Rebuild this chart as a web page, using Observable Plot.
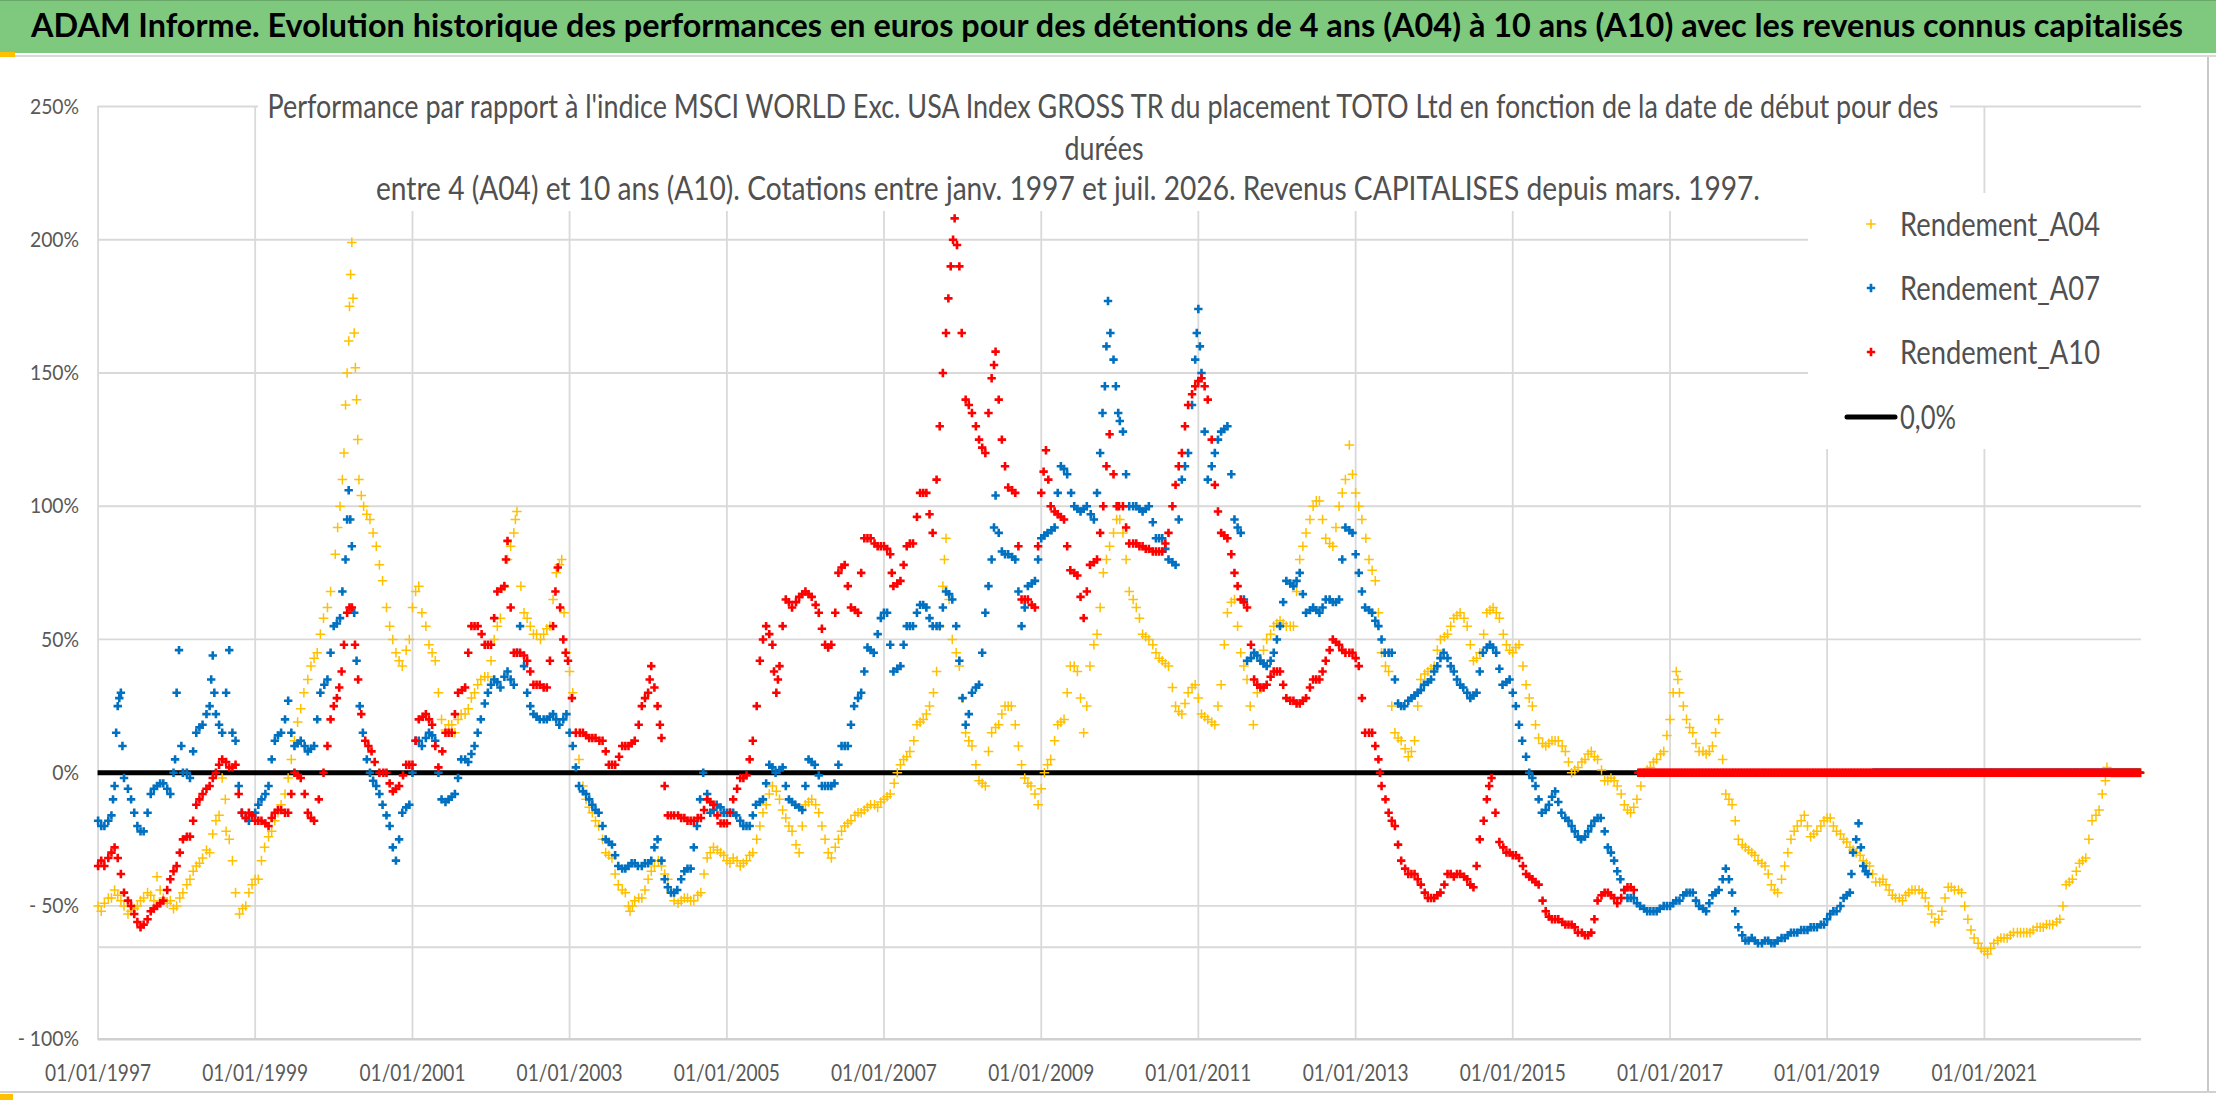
<!DOCTYPE html>
<html><head><meta charset="utf-8">
<script src="https://cdn.jsdelivr.net/npm/d3@7"></script>
<script src="https://cdn.jsdelivr.net/npm/@observablehq/plot@0.6"></script>
<style>
body{margin:0;background:#fff;}
#root{position:relative;width:2216px;height:1102px;overflow:hidden;background:#fff;}
.abs{position:absolute;white-space:nowrap;transform-origin:0 0;}
#chart{position:absolute;left:0;top:57px;}
</style></head><body><div id="root"></div>
<script>
// ---------- DATA ----------
const titleText = "ADAM Informe. Evolution historique des performances en euros pour des détentions de 4 ans (A04) à 10 ans (A10) avec les revenus connus capitalisés";
const subtitleLines = [
  "Performance par rapport à l'indice MSCI WORLD Exc. USA Index GROSS TR  du placement TOTO Ltd en fonction de la date de début pour des",
  "durées",
  "entre 4 (A04) et 10 ans (A10). Cotations entre janv. 1997 et juil. 2026. Revenus CAPITALISES depuis mars. 1997."
];
const seriesNames = ["Rendement_A04", "Rendement_A07", "Rendement_A10"];
const seriesColors = ["#FFC000", "#0070C0", "#FF0000"];
const zeroLabel = "0,0%";
const yTicks = [-100, -50, 0, 50, 100, 150, 200, 250];
const xTickYears = [1997, 1999, 2001, 2003, 2005, 2007, 2009, 2011, 2013, 2015, 2017, 2019, 2021];
const xStartYear = 1997, xEndYear = 2023;
const extraLineValue = -65.5;

// [decimal year of start date, performance %] — main reading of each band
const a04 = [
[1997.00,-50],[1997.08,-49],[1997.17,-47],[1997.25,-46],[1997.33,-50],[1997.42,-52],[1997.50,-50],[1997.58,-47],[1997.67,-46],[1997.75,-39],[1997.83,-47],[1997.92,-48],
[1998.00,-50],[1998.08,-45],[1998.17,-40],[1998.25,-35],[1998.33,-32],[1998.42,-30],[1998.50,-18],[1998.58,-2],[1998.62,-10],[1998.67,-25],[1998.75,-45],[1998.80,-53],[1998.88,-50],[1998.96,-42],
[1999.04,-40],[1999.12,-28],[1999.21,-22],[1999.29,-15],[1999.38,-8],[1999.46,5],[1999.54,19],[1999.62,30],[1999.71,40],[1999.79,45],[1999.87,58],[1999.96,68],
[2000.02,82],[2000.08,100],[2000.13,120],[2000.17,150],[2000.20,175],[2000.23,199],[2000.26,165],[2000.29,140],[2000.32,110],[2000.38,100],[2000.46,95],[2000.54,85],[2000.62,72],[2000.71,55],[2000.79,45],[2000.87,40],[2000.96,50],
[2001.04,68],[2001.12,60],[2001.21,48],[2001.29,42],[2001.37,20],[2001.46,18],[2001.54,15],[2001.62,22],[2001.71,24],[2001.79,30],[2001.87,35],[2001.96,36],
[2002.04,50],[2002.12,58],[2002.21,80],[2002.29,90],[2002.33,98],[2002.42,60],[2002.50,55],[2002.58,52],[2002.67,52],[2002.75,55],[2002.83,75],[2002.90,80],[2002.96,45],
[2003.04,30],[2003.12,5],[2003.21,-10],[2003.29,-15],[2003.37,-20],[2003.46,-30],[2003.54,-32],[2003.62,-42],[2003.71,-45],[2003.77,-52],[2003.83,-48],[2003.92,-47],
[2004.00,-40],[2004.08,-35],[2004.17,-35],[2004.25,-40],[2004.33,-48],[2004.42,-48],[2004.50,-47],[2004.58,-48],[2004.67,-45],[2004.75,-32],[2004.83,-28],[2004.92,-30],
[2005.00,-33],[2005.08,-32],[2005.17,-35],[2005.25,-33],[2005.33,-30],[2005.42,-20],[2005.50,-12],[2005.58,-5],[2005.67,-10],[2005.75,-17],[2005.83,-22],[2005.92,-30],
[2006.00,-12],[2006.08,-10],[2006.17,-15],[2006.25,-25],[2006.33,-32],[2006.42,-25],[2006.50,-20],[2006.58,-18],[2006.67,-15],[2006.75,-14],[2006.83,-12],[2006.92,-13],
[2007.00,-10],[2007.08,-8],[2007.17,0],[2007.25,5],[2007.33,8],[2007.42,18],[2007.50,20],[2007.58,25],[2007.67,38],[2007.75,70],[2007.79,88],[2007.87,50],[2007.96,40],
[2008.04,15],[2008.12,10],[2008.21,-3],[2008.29,-5],[2008.37,15],[2008.46,18],[2008.54,25],[2008.62,25],[2008.71,10],[2008.79,-2],[2008.87,-5],[2008.96,-12],
[2009.04,0],[2009.12,5],[2009.21,18],[2009.29,20],[2009.37,40],[2009.46,38],[2009.54,15],[2009.62,40],[2009.71,52],[2009.79,75],[2009.87,85],[2009.96,95],
[2010.04,90],[2010.12,68],[2010.21,62],[2010.29,52],[2010.37,50],[2010.46,45],[2010.54,42],[2010.62,40],[2010.71,25],[2010.79,22],[2010.87,30],[2010.96,33],
[2011.04,22],[2011.12,20],[2011.21,18],[2011.29,33],[2011.37,60],[2011.46,65],[2011.54,45],[2011.62,35],[2011.70,18],[2011.79,42],[2011.87,50],[2011.96,55],
[2012.04,57],[2012.12,55],[2012.21,55],[2012.29,80],[2012.37,90],[2012.46,100],[2012.54,102],[2012.62,88],[2012.71,85],[2012.79,100],[2012.87,110],[2012.92,123],
[2013.00,105],[2013.08,95],[2013.17,80],[2013.25,72],[2013.33,45],[2013.42,38],[2013.50,15],[2013.58,12],[2013.67,6],[2013.75,12],[2013.83,35],[2013.92,38],
[2014.00,40],[2014.08,50],[2014.17,52],[2014.25,58],[2014.33,60],[2014.42,55],[2014.50,42],[2014.58,45],[2014.67,60],[2014.75,62],[2014.83,58],[2014.92,48],
[2015.00,45],[2015.08,48],[2015.17,33],[2015.25,25],[2015.33,13],[2015.42,10],[2015.50,12],[2015.58,12],[2015.67,8],[2015.75,0],[2015.83,2],[2015.92,5],
[2016.00,8],[2016.08,5],[2016.17,-3],[2016.25,-2],[2016.33,-5],[2016.42,-12],[2016.50,-15],[2016.58,-10],[2016.67,0],[2016.75,2],[2016.83,5],[2016.92,8],
[2017.00,20],[2017.08,38],[2017.12,30],[2017.21,20],[2017.29,15],[2017.37,8],[2017.46,7],[2017.54,10],[2017.62,20],[2017.71,-8],[2017.79,-12],[2017.87,-25],[2017.96,-28],
[2018.04,-30],[2018.12,-33],[2018.21,-35],[2018.29,-42],[2018.37,-45],[2018.46,-35],[2018.54,-25],[2018.62,-20],[2018.71,-16],[2018.79,-24],[2018.87,-22],[2018.96,-18],
[2019.04,-17],[2019.12,-22],[2019.21,-25],[2019.29,-28],[2019.37,-30],[2019.46,-33],[2019.54,-35],[2019.62,-41],[2019.71,-40],[2019.79,-44],[2019.87,-47],[2019.96,-48],
[2020.04,-45],[2020.12,-44],[2020.21,-45],[2020.29,-50],[2020.37,-56],[2020.46,-52],[2020.54,-43],[2020.62,-44],[2020.71,-45],[2020.79,-55],[2020.87,-62],[2020.96,-66],
[2021.04,-68],[2021.12,-64],[2021.21,-62],[2021.29,-62],[2021.37,-60],[2021.46,-60],[2021.54,-60],[2021.62,-59],[2021.71,-58],[2021.79,-57],[2021.87,-57],[2021.96,-55],
[2022.04,-42],[2022.12,-40],[2022.21,-34],[2022.29,-32],[2022.37,-18],[2022.46,-14],[2022.54,-3]
];
// second reading of the A04 band (other edge of the daily scatter)
const a04Edge = [
[1997.04,-52],[1997.13,-47],[1997.21,-44],[1997.29,-48],[1997.38,-53],[1997.46,-51],[1997.54,-48],[1997.63,-45],[1997.71,-48],[1997.79,-44],[1997.88,-49],[1997.96,-51],
[1998.04,-47],[1998.13,-42],[1998.21,-37],[1998.29,-34],[1998.38,-29],[1998.46,-23],[1998.54,-16],[1998.63,-22],[1998.71,-33],[1998.84,-51],[1998.92,-45],
[1999.00,-40],[1999.08,-33],[1999.17,-24],[1999.25,-18],[1999.33,-12],[1999.42,-2],[1999.50,12],[1999.58,24],[1999.67,35],[1999.75,43],[1999.83,52],[1999.92,62],
[2000.05,92],[2000.11,110],[2000.15,138],[2000.19,162],[2000.215,187],[2000.245,178],[2000.275,152],[2000.305,125],[2000.35,104],[2000.42,97],[2000.50,90],[2000.58,78],[2000.67,62],[2000.75,50],[2000.83,42],[2000.92,46],
[2001.00,62],[2001.08,70],[2001.17,55],[2001.25,45],[2001.33,30],[2001.42,16],[2001.50,18],[2001.58,20],[2001.67,22],[2001.75,28],[2001.83,33],[2001.92,36],
[2002.00,42],[2002.08,55],[2002.17,70],[2002.25,85],[2002.31,95],[2002.38,70],[2002.46,58],[2002.54,52],[2002.63,50],[2002.71,54],[2002.79,65],[2002.87,78],[2002.93,60],
[2003.00,38],[2003.08,15],[2003.17,-5],[2003.25,-13],[2003.33,-18],[2003.42,-25],[2003.50,-31],[2003.58,-38],[2003.67,-44],[2003.75,-50],[2003.80,-50],[2003.88,-47],[2003.96,-44],
[2004.04,-37],[2004.13,-33],[2004.21,-38],[2004.29,-45],[2004.38,-49],[2004.46,-47],[2004.54,-48],[2004.63,-46],[2004.71,-38],[2004.79,-30],[2004.88,-29],[2004.96,-31],
[2005.04,-34],[2005.13,-33],[2005.21,-34],[2005.29,-31],[2005.38,-25],[2005.46,-15],[2005.54,-8],[2005.63,-7],[2005.71,-14],[2005.79,-20],[2005.88,-27],[2005.96,-20],
[2006.04,-11],[2006.13,-12],[2006.21,-20],[2006.29,-30],[2006.38,-28],[2006.46,-22],[2006.54,-19],[2006.63,-16],[2006.71,-15],[2006.79,-13],[2006.88,-12],[2006.96,-11],
[2007.04,-9],[2007.13,-4],[2007.21,3],[2007.29,6],[2007.38,12],[2007.46,19],[2007.54,22],[2007.63,30],[2007.71,55],[2007.77,80],[2007.83,65],[2007.92,45],
[2008.00,28],[2008.08,12],[2008.17,3],[2008.25,-4],[2008.33,8],[2008.42,17],[2008.50,22],[2008.58,25],[2008.67,18],[2008.75,3],[2008.83,-4],[2008.92,-8],
[2009.00,-6],[2009.08,3],[2009.17,12],[2009.25,19],[2009.33,30],[2009.42,40],[2009.50,28],[2009.58,25],[2009.67,48],[2009.75,62],[2009.83,80],[2009.92,90],
[2010.00,95],[2010.08,80],[2010.17,65],[2010.25,58],[2010.33,51],[2010.42,48],[2010.50,43],[2010.58,41],[2010.67,32],[2010.75,23],[2010.83,26],[2010.92,32],
[2011.00,28],[2011.08,21],[2011.17,19],[2011.25,25],[2011.33,48],[2011.42,64],[2011.50,55],[2011.58,40],[2011.66,25],[2011.75,30],[2011.83,46],[2011.92,52],
[2012.00,56],[2012.08,56],[2012.17,55],[2012.25,68],[2012.33,85],[2012.42,95],[2012.50,102],[2012.58,95],[2012.67,86],[2012.75,92],[2012.83,105],[2012.96,112],
[2013.04,100],[2013.13,88],[2013.21,76],[2013.29,60],[2013.38,40],[2013.46,25],[2013.54,13],[2013.63,9],[2013.71,8],[2013.79,25],[2013.88,37],[2013.96,39],
[2014.04,46],[2014.13,51],[2014.21,55],[2014.29,59],[2014.38,58],[2014.46,48],[2014.54,43],[2014.63,52],[2014.71,61],[2014.79,60],[2014.88,52],[2014.96,46],
[2015.04,47],[2015.13,40],[2015.21,28],[2015.29,18],[2015.38,11],[2015.46,11],[2015.54,12],[2015.63,10],[2015.71,4],[2015.79,1],[2015.88,4],[2015.96,7],
[2016.04,6],[2016.13,1],[2016.21,-3],[2016.29,-3],[2016.38,-8],[2016.46,-14],[2016.54,-13],[2016.63,-5],[2016.71,1],[2016.79,4],[2016.88,7],[2016.96,14],
[2017.04,30],[2017.10,35],[2017.17,25],[2017.25,17],[2017.33,11],[2017.42,8],[2017.50,8],[2017.58,15],[2017.67,5],[2017.75,-10],[2017.83,-18],[2017.92,-27],
[2018.00,-29],[2018.08,-31],[2018.17,-34],[2018.25,-38],[2018.33,-44],[2018.42,-40],[2018.50,-30],[2018.58,-22],[2018.67,-18],[2018.75,-20],[2018.83,-23],[2018.92,-20],
[2019.00,-17],[2019.08,-20],[2019.17,-23],[2019.25,-26],[2019.33,-29],[2019.42,-31],[2019.50,-34],[2019.58,-38],[2019.67,-41],[2019.75,-42],[2019.83,-46],[2019.92,-47],
[2020.00,-46],[2020.08,-44],[2020.17,-44],[2020.25,-47],[2020.33,-53],[2020.42,-55],[2020.50,-47],[2020.58,-43],[2020.67,-44],[2020.75,-50],[2020.83,-59],[2020.92,-64],
[2021.00,-67],[2021.08,-66],[2021.17,-63],[2021.25,-62],[2021.33,-61],[2021.42,-60],[2021.50,-60],[2021.58,-60],[2021.67,-58],[2021.75,-58],[2021.83,-57],[2021.92,-56],
[2022.00,-50],[2022.08,-41],[2022.17,-37],[2022.25,-33],[2022.33,-25],[2022.42,-16],[2022.50,-8],[2022.56,2]
];
const a07 = [
[1997.00,-18],[1997.08,-20],[1997.17,-16],[1997.21,-5],[1997.25,25],[1997.29,30],[1997.33,-2],[1997.42,-10],[1997.50,-20],[1997.58,-22],[1997.67,-8],[1997.75,-5],[1997.83,-4],[1997.92,-8],[1997.98,5],
[1998.03,46],[1998.08,0],[1998.17,-2],[1998.25,15],[1998.33,18],[1998.42,25],[1998.46,44],[1998.50,22],[1998.58,15],[1998.67,46],[1998.75,12],[1998.83,-15],[1998.92,-18],
[1999.00,-15],[1999.08,-10],[1999.17,-5],[1999.25,12],[1999.33,15],[1999.42,27],[1999.50,10],[1999.58,12],[1999.67,8],[1999.75,10],[1999.83,30],[1999.92,35],
[2000.00,55],[2000.08,58],[2000.15,80],[2000.19,106],[2000.23,85],[2000.29,42],[2000.37,15],[2000.46,0],[2000.54,-5],[2000.62,-12],[2000.71,-20],[2000.79,-33],[2000.87,-15],[2000.96,-12],
[2001.04,12],[2001.12,10],[2001.21,15],[2001.29,12],[2001.37,-10],[2001.46,-10],[2001.54,-8],[2001.62,5],[2001.71,4],[2001.79,10],[2001.87,20],[2001.96,30],
[2002.04,35],[2002.12,32],[2002.21,38],[2002.29,33],[2002.37,55],[2002.46,30],[2002.54,22],[2002.62,20],[2002.71,20],[2002.79,22],[2002.87,18],[2002.96,22],
[2003.04,10],[2003.12,-5],[2003.21,-8],[2003.29,-12],[2003.37,-15],[2003.46,-25],[2003.54,-27],[2003.62,-35],[2003.71,-36],[2003.79,-34],[2003.87,-35],[2003.96,-34],
[2004.04,-33],[2004.12,-25],[2004.21,-40],[2004.29,-45],[2004.37,-44],[2004.46,-37],[2004.54,-36],[2004.62,-20],[2004.70,0],[2004.79,-15],[2004.87,-12],[2004.96,-15],
[2005.04,-15],[2005.12,-16],[2005.21,-20],[2005.29,-20],[2005.37,-12],[2005.46,-10],[2005.54,3],[2005.62,0],[2005.71,2],[2005.79,-10],[2005.87,-12],[2005.96,-14],
[2006.04,5],[2006.12,3],[2006.21,-5],[2006.29,-5],[2006.37,-4],[2006.46,10],[2006.54,10],[2006.62,25],[2006.71,30],[2006.79,47],[2006.87,45],[2006.96,58],
[2007.04,60],[2007.12,38],[2007.21,40],[2007.29,55],[2007.37,55],[2007.46,63],[2007.54,62],[2007.62,55],[2007.71,55],[2007.79,68],[2007.87,65],[2007.96,42],
[2008.04,18],[2008.12,30],[2008.21,33],[2008.29,60],[2008.37,80],[2008.42,104],[2008.50,83],[2008.58,82],[2008.67,80],[2008.75,55],[2008.83,70],[2008.92,72],
[2009.00,88],[2009.08,90],[2009.17,92],[2009.25,115],[2009.33,112],[2009.42,100],[2009.50,98],[2009.58,100],[2009.67,95],[2009.75,120],[2009.81,145],[2009.85,177],[2009.92,155],[2009.98,135],
[2010.04,128],[2010.12,100],[2010.21,100],[2010.29,98],[2010.37,100],[2010.46,88],[2010.54,88],[2010.62,80],[2010.71,78],[2010.79,110],[2010.87,120],[2010.96,155],
[2011.00,174],[2011.04,150],[2011.12,110],[2011.21,120],[2011.29,128],[2011.37,130],[2011.46,95],[2011.54,90],[2011.62,42],[2011.71,45],[2011.79,42],[2011.87,40],[2011.96,45],
[2012.04,55],[2012.12,72],[2012.21,70],[2012.29,75],[2012.37,60],[2012.46,62],[2012.54,60],[2012.62,65],[2012.71,64],[2012.79,65],[2012.87,92],[2012.96,90],
[2013.04,75],[2013.12,62],[2013.21,60],[2013.29,55],[2013.37,45],[2013.46,45],[2013.54,26],[2013.62,25],[2013.71,28],[2013.79,30],[2013.87,33],[2013.96,35],
[2014.04,40],[2014.12,45],[2014.21,40],[2014.29,35],[2014.37,32],[2014.46,28],[2014.54,30],[2014.62,45],[2014.71,48],[2014.79,45],[2014.87,33],[2014.96,35],
[2015.04,25],[2015.12,12],[2015.21,0],[2015.29,-5],[2015.37,-15],[2015.46,-12],[2015.54,-7],[2015.62,-15],[2015.71,-18],[2015.79,-22],[2015.87,-25],[2015.96,-22],
[2016.04,-18],[2016.12,-17],[2016.21,-28],[2016.29,-33],[2016.37,-40],[2016.46,-47],[2016.54,-47],[2016.62,-50],[2016.71,-52],[2016.79,-52],[2016.87,-51],[2016.96,-50],
[2017.04,-49],[2017.12,-48],[2017.21,-45],[2017.29,-45],[2017.37,-50],[2017.46,-52],[2017.54,-46],[2017.62,-44],[2017.71,-36],[2017.79,-45],[2017.87,-58],[2017.96,-63],
[2018.04,-62],[2018.12,-64],[2018.21,-63],[2018.29,-64],[2018.37,-63],[2018.46,-62],[2018.54,-60],[2018.62,-60],[2018.71,-59],[2018.79,-58],[2018.87,-58],[2018.96,-57],
[2019.04,-53],[2019.12,-52],[2019.21,-47],[2019.29,-45],[2019.33,-30],[2019.40,-19],[2019.46,-35],[2019.52,-38]
];
const a07Edge = [
[1997.04,-20],[1997.13,-18],[1997.19,-10],[1997.23,15],[1997.27,28],[1997.31,10],[1997.38,-6],[1997.46,-15],[1997.54,-22],[1997.63,-15],[1997.71,-6],[1997.79,-4],[1997.88,-6],[1997.96,0],
[1998.00,30],[1998.06,10],[1998.13,0],[1998.21,8],[1998.29,17],[1998.38,22],[1998.44,35],[1998.48,30],[1998.54,18],[1998.63,30],[1998.71,15],[1998.79,-5],[1998.88,-17],[1998.96,-16],
[1999.04,-12],[1999.13,-8],[1999.21,5],[1999.29,14],[1999.38,20],[1999.46,15],[1999.54,11],[1999.63,10],[1999.71,9],[1999.79,20],[1999.88,33],[1999.96,45],
[2000.04,56],[2000.11,68],[2000.17,95],[2000.21,95],[2000.26,60],[2000.33,25],[2000.42,5],[2000.50,-3],[2000.58,-8],[2000.67,-16],[2000.75,-28],[2000.83,-25],[2000.92,-13],
[2001.00,0],[2001.08,12],[2001.17,13],[2001.25,14],[2001.33,0],[2001.42,-11],[2001.50,-9],[2001.58,-2],[2001.67,5],[2001.75,7],[2001.83,15],[2001.92,26],
[2002.00,33],[2002.08,34],[2002.17,36],[2002.25,35],[2002.33,45],[2002.42,40],[2002.50,25],[2002.58,21],[2002.67,20],[2002.75,21],[2002.83,20],[2002.92,20],
[2003.00,15],[2003.08,2],[2003.17,-7],[2003.25,-10],[2003.33,-14],[2003.42,-20],[2003.50,-26],[2003.58,-31],[2003.67,-36],[2003.75,-35],[2003.83,-34],[2003.92,-35],
[2004.00,-34],[2004.08,-28],[2004.17,-33],[2004.25,-43],[2004.33,-45],[2004.42,-40],[2004.50,-36],[2004.58,-28],[2004.66,-10],[2004.75,-8],[2004.83,-14],[2004.92,-13],
[2005.00,-15],[2005.08,-15],[2005.17,-18],[2005.25,-20],[2005.33,-16],[2005.42,-11],[2005.50,-4],[2005.58,2],[2005.67,1],[2005.75,-5],[2005.83,-11],[2005.92,-13],
[2006.00,-5],[2006.08,4],[2006.17,-1],[2006.25,-5],[2006.33,-5],[2006.42,3],[2006.50,10],[2006.58,18],[2006.67,28],[2006.75,38],[2006.83,46],[2006.92,52],
[2007.00,60],[2007.08,48],[2007.17,39],[2007.25,48],[2007.33,55],[2007.42,60],[2007.50,63],[2007.58,58],[2007.67,55],[2007.75,62],[2007.83,67],[2007.92,55],
[2008.00,28],[2008.08,22],[2008.17,32],[2008.25,45],[2008.33,70],[2008.40,92],[2008.46,90],[2008.54,82],[2008.63,81],[2008.71,68],[2008.79,62],[2008.88,71],[2008.96,80],
[2009.04,89],[2009.13,91],[2009.21,105],[2009.29,114],[2009.38,105],[2009.46,99],[2009.54,99],[2009.63,97],[2009.71,105],[2009.78,135],[2009.83,160],[2009.88,165],[2009.95,145],
[2010.00,132],[2010.08,112],[2010.17,100],[2010.25,99],[2010.33,99],[2010.42,94],[2010.50,88],[2010.58,84],[2010.67,79],[2010.75,95],[2010.83,115],[2010.92,138],[2010.98,165],
[2011.02,160],[2011.08,128],[2011.17,115],[2011.25,125],[2011.33,129],[2011.42,112],[2011.50,92],[2011.58,65],[2011.67,43],[2011.75,44],[2011.83,41],[2011.92,42],
[2012.00,50],[2012.08,64],[2012.17,71],[2012.25,72],[2012.33,67],[2012.42,61],[2012.50,61],[2012.58,62],[2012.67,65],[2012.75,64],[2012.83,80],[2012.92,91],
[2013.00,82],[2013.08,68],[2013.17,61],[2013.25,57],[2013.33,50],[2013.42,45],[2013.50,35],[2013.58,25],[2013.67,27],[2013.75,29],[2013.83,31],[2013.92,34],
[2014.00,38],[2014.08,43],[2014.17,43],[2014.25,38],[2014.33,33],[2014.42,30],[2014.50,29],[2014.58,38],[2014.67,47],[2014.75,47],[2014.83,39],[2014.92,34],
[2015.00,30],[2015.08,18],[2015.17,6],[2015.25,-2],[2015.33,-10],[2015.42,-14],[2015.50,-9],[2015.58,-11],[2015.67,-17],[2015.75,-20],[2015.83,-24],[2015.92,-24],
[2016.00,-20],[2016.08,-17],[2016.17,-22],[2016.25,-30],[2016.33,-37],[2016.42,-44],[2016.50,-47],[2016.58,-49],[2016.67,-51],[2016.75,-52],[2016.83,-52],[2016.92,-50],
[2017.00,-50],[2017.08,-48],[2017.17,-46],[2017.25,-45],[2017.33,-48],[2017.42,-51],[2017.50,-49],[2017.58,-45],[2017.67,-40],[2017.75,-40],[2017.83,-52],[2017.92,-61],
[2018.00,-63],[2018.08,-63],[2018.17,-64],[2018.25,-63],[2018.33,-64],[2018.42,-62],[2018.50,-61],[2018.58,-60],[2018.67,-59],[2018.75,-59],[2018.83,-58],[2018.92,-57],
[2019.00,-55],[2019.08,-52],[2019.17,-50],[2019.25,-46],[2019.31,-38],[2019.37,-25],[2019.43,-28],[2019.49,-37]
];
const a10 = [
[1997.00,-35],[1997.08,-35],[1997.17,-30],[1997.25,-32],[1997.33,-45],[1997.42,-50],[1997.50,-56],[1997.58,-57],[1997.67,-52],[1997.75,-50],[1997.83,-48],[1997.92,-40],
[1998.00,-35],[1998.08,-25],[1998.17,-24],[1998.25,-12],[1998.33,-8],[1998.42,-5],[1998.50,0],[1998.58,5],[1998.67,2],[1998.75,3],[1998.83,-15],[1998.92,-15],
[1999.00,-18],[1999.08,-18],[1999.17,-20],[1999.25,-15],[1999.33,-14],[1999.42,-15],[1999.50,0],[1999.58,-2],[1999.67,-15],[1999.75,-18],[1999.87,0],[1999.96,20],
[2000.04,28],[2000.10,38],[2000.17,60],[2000.23,62],[2000.31,35],[2000.40,12],[2000.48,8],[2000.58,0],[2000.67,0],[2000.75,-7],[2000.83,-5],[2000.92,3],
[2001.00,3],[2001.08,20],[2001.17,22],[2001.25,18],[2001.33,2],[2001.42,15],[2001.50,15],[2001.58,30],[2001.67,32],[2001.75,55],[2001.83,55],[2001.92,48],
[2002.00,48],[2002.08,68],[2002.17,70],[2002.21,87],[2002.29,45],[2002.37,45],[2002.46,42],[2002.54,33],[2002.62,33],[2002.71,32],[2002.79,55],[2002.85,77],[2002.92,50],[2002.98,42],
[2003.08,15],[2003.17,15],[2003.25,13],[2003.33,13],[2003.42,12],[2003.50,3],[2003.58,3],[2003.67,10],[2003.75,10],[2003.83,12],[2003.92,25],
[2004.00,30],[2004.04,40],[2004.12,25],[2004.17,13],[2004.25,-16],[2004.33,-16],[2004.42,-17],[2004.50,-18],[2004.58,-18],[2004.67,-17],[2004.75,-10],[2004.83,-12],[2004.92,-19],
[2005.00,-19],[2005.08,-10],[2005.17,-2],[2005.25,-1],[2005.33,12],[2005.42,42],[2005.50,55],[2005.58,48],[2005.63,30],[2005.67,40],[2005.75,65],[2005.83,62],[2005.92,66],
[2006.00,68],[2006.08,66],[2006.17,60],[2006.25,48],[2006.33,48],[2006.42,75],[2006.50,78],[2006.58,62],[2006.67,60],[2006.75,88],[2006.83,88],[2006.92,85],
[2007.00,85],[2007.08,82],[2007.12,70],[2007.21,72],[2007.29,85],[2007.37,86],[2007.46,105],[2007.54,105],[2007.62,90],[2007.71,130],[2007.79,165],[2007.85,190],[2007.90,208],[2007.96,190],
[2008.04,140],[2008.12,135],[2008.21,125],[2008.29,120],[2008.37,148],[2008.42,158],[2008.50,125],[2008.58,107],[2008.67,105],[2008.75,65],[2008.83,65],[2008.92,62],
[2009.00,105],[2009.06,121],[2009.12,100],[2009.21,97],[2009.29,95],[2009.37,76],[2009.46,74],[2009.54,58],[2009.62,78],[2009.71,80],[2009.79,100],[2009.87,127],[2009.96,100],
[2010.04,100],[2010.12,86],[2010.21,86],[2010.29,85],[2010.37,84],[2010.46,83],[2010.54,83],[2010.62,90],[2010.71,108],[2010.79,120],[2010.87,138],[2010.96,145],
[2011.04,148],[2011.12,140],[2011.21,108],[2011.29,90],[2011.37,88],[2011.46,75],[2011.54,65],[2011.62,62],[2011.71,35],[2011.79,32],[2011.87,33],[2011.96,38],
[2012.04,38],[2012.12,28],[2012.21,27],[2012.29,26],[2012.37,28],[2012.46,35],[2012.54,35],[2012.62,42],[2012.71,50],[2012.79,48],[2012.87,45],[2012.96,45],
[2013.04,40],[2013.12,15],[2013.21,15],[2013.29,5],[2013.33,-5],[2013.42,-15],[2013.50,-20],[2013.58,-33],[2013.67,-38],[2013.75,-38],[2013.83,-42],[2013.92,-47],
[2014.00,-47],[2014.08,-45],[2014.17,-38],[2014.25,-39],[2014.33,-38],[2014.42,-40],[2014.50,-43],[2014.58,-25],[2014.67,-10],[2014.73,-2],[2014.83,-26],[2014.92,-30],
[2015.00,-31],[2015.08,-32],[2015.17,-38],[2015.25,-40],[2015.33,-42],[2015.42,-52],[2015.50,-55],[2015.58,-55],[2015.67,-57],[2015.75,-57],[2015.83,-60],[2015.92,-61],
[2016.00,-60],[2016.08,-48],[2016.17,-45],[2016.25,-46],[2016.33,-49],[2016.42,-44],[2016.50,-43]
];
const a10Edge = [
[1997.04,-33],[1997.13,-32],[1997.21,-28],[1997.29,-38],[1997.38,-48],[1997.46,-53],[1997.54,-58],[1997.63,-55],[1997.71,-51],[1997.79,-49],[1997.88,-44],[1997.96,-37],
[1998.04,-30],[1998.13,-24],[1998.21,-18],[1998.29,-10],[1998.38,-6],[1998.46,-2],[1998.54,3],[1998.63,4],[1998.71,2],[1998.79,-8],[1998.88,-17],[1998.96,-16],
[1999.04,-18],[1999.13,-19],[1999.21,-17],[1999.29,-14],[1999.38,-15],[1999.46,-8],[1999.54,-1],[1999.63,-8],[1999.71,-17],[1999.81,-10],[1999.92,10],
[2000.00,25],[2000.07,32],[2000.13,48],[2000.20,62],[2000.27,48],[2000.35,22],[2000.44,10],[2000.52,4],[2000.63,0],[2000.71,-4],[2000.79,-6],[2000.88,-1],[2000.96,3],
[2001.04,12],[2001.13,21],[2001.21,20],[2001.29,10],[2001.38,8],[2001.46,15],[2001.54,22],[2001.63,31],[2001.71,45],[2001.79,55],[2001.88,52],[2001.96,48],
[2002.04,58],[2002.13,69],[2002.19,80],[2002.25,62],[2002.33,45],[2002.42,44],[2002.50,38],[2002.58,33],[2002.67,32],[2002.75,42],[2002.82,68],[2002.88,62],[2002.95,45],
[2003.03,28],[2003.13,15],[2003.21,14],[2003.29,13],[2003.38,12],[2003.46,8],[2003.54,3],[2003.63,6],[2003.71,10],[2003.79,11],[2003.88,18],[2003.96,28],
[2004.02,35],[2004.08,32],[2004.15,18],[2004.21,-5],[2004.29,-16],[2004.38,-16],[2004.46,-17],[2004.54,-18],[2004.63,-17],[2004.71,-14],[2004.79,-11],[2004.88,-16],[2004.96,-19],
[2005.04,-15],[2005.13,-6],[2005.21,-2],[2005.29,5],[2005.38,25],[2005.46,50],[2005.54,52],[2005.60,38],[2005.65,35],[2005.71,55],[2005.79,64],[2005.88,64],[2005.96,67],
[2006.04,67],[2006.13,63],[2006.21,54],[2006.29,47],[2006.38,60],[2006.46,77],[2006.54,70],[2006.63,61],[2006.71,75],[2006.79,88],[2006.88,86],[2006.96,85],
[2007.04,84],[2007.10,75],[2007.17,71],[2007.25,78],[2007.33,86],[2007.42,96],[2007.50,105],[2007.58,97],[2007.67,110],[2007.75,150],[2007.82,178],[2007.88,200],[2007.93,198],[2007.99,165],
[2008.08,138],[2008.17,130],[2008.25,122],[2008.33,135],[2008.40,153],[2008.46,140],[2008.54,115],[2008.63,106],[2008.71,85],[2008.79,65],[2008.88,63],[2008.96,85],
[2009.03,113],[2009.09,110],[2009.17,98],[2009.25,96],[2009.33,85],[2009.42,75],[2009.50,66],[2009.58,68],[2009.67,79],[2009.75,90],[2009.83,115],[2009.92,112],[2009.99,100],
[2010.08,92],[2010.17,86],[2010.25,85],[2010.33,84],[2010.42,83],[2010.50,83],[2010.58,86],[2010.67,100],[2010.75,115],[2010.83,130],[2010.92,142],[2011.00,147],
[2011.08,145],[2011.17,125],[2011.25,98],[2011.33,89],[2011.42,82],[2011.50,70],[2011.58,64],[2011.67,48],[2011.75,33],[2011.83,32],[2011.92,36],[2012.00,38],
[2012.08,33],[2012.17,27],[2012.25,26],[2012.33,27],[2012.42,32],[2012.50,35],[2012.58,38],[2012.67,46],[2012.75,49],[2012.83,46],[2012.92,45],[2013.00,43],
[2013.08,28],[2013.17,15],[2013.25,10],[2013.31,0],[2013.38,-10],[2013.46,-18],[2013.54,-27],[2013.63,-36],[2013.71,-38],[2013.79,-40],[2013.88,-45],[2013.96,-47],
[2014.04,-46],[2014.13,-42],[2014.21,-38],[2014.29,-38],[2014.38,-39],[2014.46,-42],[2014.54,-35],[2014.63,-18],[2014.70,-5],[2014.78,-15],[2014.88,-28],[2014.96,-30],
[2015.04,-31],[2015.13,-35],[2015.21,-39],[2015.29,-41],[2015.38,-48],[2015.46,-54],[2015.54,-55],[2015.63,-56],[2015.71,-57],[2015.79,-58],[2015.88,-60],[2015.96,-61],
[2016.04,-55],[2016.13,-46],[2016.21,-45],[2016.29,-47],[2016.38,-47],[2016.46,-43],[2016.54,-44]
];
// start dates from which the holding period has not elapsed yet: value 0
const a04ZeroFrom = 2022.60, a07ZeroFrom = 2019.58, a10ZeroFrom = 2016.58;

// ---------- BUILD ----------
const FONT = 'Lato, "Open Sans", "DejaVu Sans", sans-serif';
const toDate = y => { const yr = Math.floor(y), s = Date.UTC(yr,0,1), e = Date.UTC(yr+1,0,1); return new Date(s + (y-yr)*(e-s)); };
const xMin = new Date(Date.UTC(xStartYear,0,1)), xMax = new Date(Date.UTC(xEndYear,0,1));
const toRows = arr => arr.map(([t,v]) => ({date: toDate(t), value: v}));
const zeros = from => d3.utcWeek.range(toDate(from), xMax).map(d => ({date: d, value: 0}));
const seriesData = [
  toRows(a04).concat(toRows(a04Edge), zeros(a04ZeroFrom)),
  toRows(a07).concat(toRows(a07Edge), zeros(a07ZeroFrom)),
  toRows(a10).concat(toRows(a10Edge), zeros(a10ZeroFrom))
];
const strokeW = [1.5, 2.6, 2.6];
const markR = [4.8, 4.2, 4.2];
const plus = { draw(ctx, size) { const r = Math.sqrt(size/Math.PI); ctx.moveTo(-r,0); ctx.lineTo(r,0); ctx.moveTo(0,-r); ctx.lineTo(0,r); } };
const fmtPct = v => v < 0 ? "- " + Math.abs(v) + "%" : v + "%";
const xTicks = xTickYears.map(y => new Date(Date.UTC(y,0,1)));

const chart = Plot.plot({
  width: 2216, height: 1045,
  marginLeft: 97.6, marginRight: 75, marginTop: 49, marginBottom: 63.3,
  style: {fontFamily: FONT, fontSize: "22px", background: "transparent", color: "#595959", overflow: "visible"},
  x: {type: "utc", domain: [xMin, xMax]},
  y: {domain: [-100, 250]},
  marks: [
    Plot.gridX(xTicks, {stroke: "#d9d9d9", strokeOpacity: 1, strokeWidth: 1.8}),
    Plot.gridY(yTicks, {stroke: "#d9d9d9", strokeOpacity: 1, strokeWidth: 1.8}),
    Plot.ruleY([extraLineValue], {stroke: "#d9d9d9", strokeWidth: 1.8}),
    Plot.ruleY([-100], {stroke: "#d0d0d0", strokeWidth: 2.6}),
    Plot.axisX(xTicks, {tickSize: 0, tickPadding: 25, tickFormat: d => "01/01/" + d.getUTCFullYear(), label: null, fill: "#595959", fontSize: 23}),
    Plot.axisY(yTicks, {tickSize: 0, tickPadding: 19, tickFormat: fmtPct, label: null, fill: "#595959", fontSize: 22}),
    Plot.ruleY([0], {stroke: "#000", strokeWidth: 5}),
    ...seriesData.map((data, i) => Plot.dot(data, {x: "date", y: "value", symbol: plus, r: markR[i], fill: "none", stroke: seriesColors[i], strokeWidth: strokeW[i]}))
  ]
});
chart.id = "chart";
const root = document.getElementById("root");
root.appendChild(chart);

// compress tick labels horizontally like the condensed original font
chart.querySelectorAll('g[aria-label="x-axis tick label"] text').forEach(t => {
  t.setAttribute("textLength", 106); t.setAttribute("lengthAdjust", "spacingAndGlyphs");
});
chart.querySelectorAll('g[aria-label="y-axis tick label"] text').forEach(t => {
  const w = t.getComputedTextLength();
  t.setAttribute("textLength", (w * 0.88).toFixed(1)); t.setAttribute("lengthAdjust", "spacingAndGlyphs");
});

function box(l, t, w, h, bg, extra) {
  const d = document.createElement("div");
  d.style.cssText = `position:absolute;left:${l}px;top:${t}px;width:${w}px;height:${h}px;background:${bg};${extra||""}`;
  root.appendChild(d); return d;
}
function txt(s, opts) {
  const el = document.createElement("div");
  el.className = "abs";
  el.textContent = s;
  el.style.fontFamily = FONT;
  el.style.fontSize = opts.fs + "px";
  el.style.lineHeight = opts.fs + "px";
  el.style.fontWeight = opts.bold ? "bold" : "normal";
  el.style.color = opts.color;
  el.style.left = opts.x + "px";
  el.style.top = (opts.cy - opts.fs/2) + "px";
  root.appendChild(el);
  const nat = el.getBoundingClientRect().width;
  const s2 = opts.w / nat;
  el.style.transform = opts.center ? `translateX(${-opts.w/2}px) scaleX(${s2})` : `scaleX(${s2})`;
  return el;
}

// title bar
box(0, 0, 2216, 53, "#7fc97f", "border-top:1px solid #6aa86a;box-sizing:border-box;");
box(0, 55, 2216, 2, "#d9d9d9");
box(0, 52, 15, 5, "#ffc000");
txt(titleText, {x: 31, cy: 25, fs: 32, bold: true, color: "#000", w: 2152});
// bottom & right frame artifacts
box(0, 1091, 2216, 2, "#d0d0d0");
box(0, 1094, 13, 6, "#ffc000");
box(2207, 57, 2, 1034, "#c8c8c8");

// subtitle
box(258, 80, 1692, 131, "#fff");
const subCenters = [1103, 1104, 1068], subY = [106, 148, 188], subW = [1671, 79, 1384];
subtitleLines.forEach((s, i) => txt(s, {x: subCenters[i], cy: subY[i], fs: 32, color: "#505050", w: subW[i], center: true}));

// legend
box(1808, 193, 334, 256, "#fff");
const legY = [224, 288, 352, 417];
const NS = "http://www.w3.org/2000/svg";
seriesNames.forEach((name, i) => {
  const svg = document.createElementNS(NS, "svg");
  svg.setAttribute("width", 20); svg.setAttribute("height", 20);
  svg.style.cssText = `position:absolute;left:${1871-10}px;top:${legY[i]-10}px;`;
  const p = document.createElementNS(NS, "path");
  const r = markR[i];
  p.setAttribute("d", `M${10-r},10H${10+r}M10,${10-r}V${10+r}`);
  p.setAttribute("stroke", seriesColors[i]); p.setAttribute("stroke-width", strokeW[i]); p.setAttribute("fill", "none");
  svg.appendChild(p); root.appendChild(svg);
  txt(name, {x: 1900, cy: legY[i], fs: 32, color: "#505050", w: 200});
});
{
  const svg = document.createElementNS(NS, "svg");
  svg.setAttribute("width", 60); svg.setAttribute("height", 20);
  svg.style.cssText = `position:absolute;left:1840px;top:${legY[3]-10}px;`;
  const l = document.createElementNS(NS, "line");
  l.setAttribute("x1", 7); l.setAttribute("x2", 55); l.setAttribute("y1", 10); l.setAttribute("y2", 10);
  l.setAttribute("stroke", "#000"); l.setAttribute("stroke-width", 5); l.setAttribute("stroke-linecap", "round");
  svg.appendChild(l); root.appendChild(svg);
  txt(zeroLabel, {x: 1900, cy: legY[3], fs: 32, color: "#505050", w: 56});
}
</script></body></html>
